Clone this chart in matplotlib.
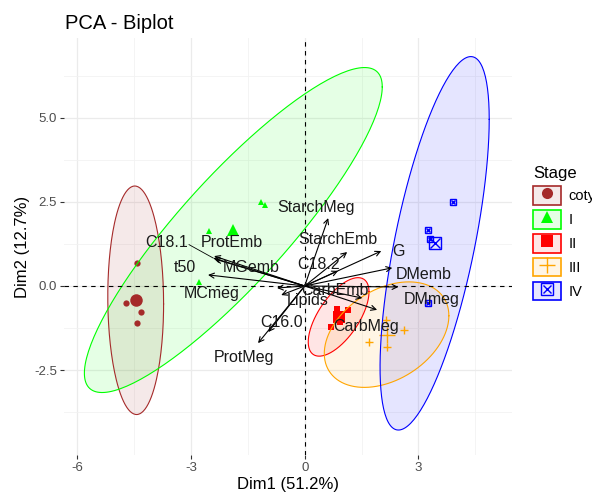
import matplotlib
matplotlib.use("Agg")
import matplotlib.pyplot as plt
from matplotlib.lines import Line2D
from matplotlib.patches import Patch
import numpy as np

plt.rcParams['font.family'] = ['Liberation Sans', 'DejaVu Sans']

# individuals (Dim1, Dim2) per stage
stages = ['coty', 'I', 'II', 'III', 'IV']
coty_x = [-4.41, -4.70, -4.31, -4.41]
coty_y = [0.68, -0.50, -0.77, -1.11]
I_x = [-1.16, -1.06, -2.53, -2.78]
I_y = [2.50, 2.41, 1.64, 0.11]
II_x = [0.84, 1.13, 0.92, 0.69]
II_y = [-0.68, -0.71, -1.07, -1.22]
III_x = [2.14, 2.62, 1.70, 2.18]
III_y = [-1.01, -1.31, -1.66, -1.81]
IV_x = [3.92, 3.24, 3.30, 3.25]
IV_y = [2.51, 1.67, 1.40, -0.50]

# variables (arrow tips)
var_names = ['C18.1', 'ProtEmb', 'MGemb', 't50', 'MCmeg', 'Lipids', 'C16.0', 'ProtMeg',
             'StarchMeg', 'StarchEmb', 'C18.2', 'G', 'DMemb', 'DMmeg', 'CarbEmb', 'CarbMeg']
var_x = [-2.41, -2.39, -2.36, -2.55, -0.73, -0.62, -0.96, -1.23,
         0.62, 1.12, 0.88, 2.02, 2.31, 2.47, 1.52, 1.91]
var_y = [0.83, 0.89, 0.80, 0.33, -0.06, -0.27, -1.37, -1.70,
         2.02, 1.01, 0.45, 1.04, 0.54, -0.03, -0.36, -0.71]
# repelled label positions
lab_x = [-3.65, -1.91, -1.41, -3.15, -2.44, 0.07, -0.62, -1.60,
         0.30, 0.88, 0.36, 2.47, 3.15, 3.36, 0.80, 1.62]
lab_y = [1.28, 1.28, 0.54, 0.54, -0.21, -0.42, -1.10, -2.14,
         2.35, 1.37, 0.65, 1.04, 0.33, -0.39, -0.12, -1.22]

colors = ['#A52A2A', '#00FF00', '#FF0000', '#FFA500', '#0000FF']
xs = [coty_x, I_x, II_x, III_x, IV_x]
ys = [coty_y, I_y, II_y, III_y, IV_y]


def ellipse_pts(x, y, level=0.95, segs=200):
    # same as ggplot2 stat_ellipse(type="norm")
    pts = np.column_stack([x, y])
    n = len(pts)
    center = pts.mean(axis=0)
    cov = np.cov(pts.T)
    d = n - 1
    f = d / 2 * ((1 - level) ** (-2 / d) - 1)  # qf(level, 2, d)
    radius = np.sqrt(2 * f)
    ang = np.linspace(0, 2 * np.pi, segs)
    circ = np.column_stack([np.cos(ang), np.sin(ang)])
    chol = np.linalg.cholesky(cov).T
    return center + radius * circ @ chol


def draw_marker(ax, x, y, i, ms):
    c = colors[i]
    if i == 0:
        ax.plot(x, y, 'o', color=c, ms=ms, mew=0, ls='none')
    elif i == 1:
        ax.plot(x, y, '^', color=c, ms=ms, mew=0, ls='none')
    elif i == 2:
        ax.plot(x, y, 's', color=c, ms=ms * 0.9, mew=0, ls='none')
    elif i == 3:
        ax.plot(x, y, '+', color=c, ms=ms * 1.3, mew=1, ls='none')
    else:
        ax.plot(x, y, 's', mfc='none', mec=c, ms=ms, mew=1, ls='none')
        ax.plot(x, y, 'x', color=c, ms=ms * 0.75, mew=1, ls='none')


fig = plt.figure(figsize=(5.92, 4.93), dpi=100)
ax = fig.add_axes([0.108, 0.077, 0.757, 0.846])

for i in range(5):
    e = ellipse_pts(xs[i], ys[i])
    ax.fill(e[:, 0], e[:, 1], color=colors[i], alpha=0.1, lw=0, zorder=1)
    ax.plot(e[:, 0], e[:, 1], color=colors[i], lw=0.8, zorder=2)
    draw_marker(ax, xs[i], ys[i], i, 4.5)
    draw_marker(ax, np.mean(xs[i]), np.mean(ys[i]), i, 9)

ax.axhline(0, color='black', ls=(0, (4, 4)), lw=0.8, zorder=3)
ax.axvline(0, color='black', ls=(0, (4, 4)), lw=0.8, zorder=3)

for k in range(len(var_names)):
    ax.annotate('', xy=(var_x[k], var_y[k]), xytext=(0, 0),
                arrowprops=dict(arrowstyle='->', color='black', lw=0.8,
                                shrinkA=0, shrinkB=0, mutation_scale=9), zorder=4)
    ax.text(lab_x[k], lab_y[k], var_names[k], fontsize=11.5, ha='center', va='center',
            color='#1a1a1a', zorder=5)
# repel segment for C18.1
ax.plot([lab_x[0] + 0.6, var_x[0]], [lab_y[0] - 0.05, var_y[0]], color='black', lw=0.6, zorder=4)

ax.set_xlim(-6.35, 5.47)
ax.set_ylim(-5.03, 7.38)
ax.set_xticks([-6, -3, 0, 3])
ax.set_xticklabels(['-6', '-3', '0', '3'])
ax.set_yticks([-2.5, 0, 2.5, 5.0])
ax.set_yticklabels(['-2.5', '0.0', '2.5', '5.0'])
ax.set_xticks([-4.5, -1.5, 1.5, 4.5], minor=True)
ax.set_yticks([-3.75, -1.25, 1.25, 3.75, 6.25], minor=True)
ax.grid(True, which='major', color='#EBEBEB', lw=0.9)
ax.grid(True, which='minor', color='#F2F2F2', lw=0.6)
ax.set_axisbelow(True)
for s in ax.spines.values():
    s.set_visible(False)
ax.tick_params(which='major', length=3, color='#333333', labelsize=9.5,
               labelcolor='#4D4D4D', pad=2)
ax.tick_params(which='minor', length=0)
ax.set_xlabel('Dim1 (51.2%)', fontsize=12, labelpad=2)
ax.set_ylabel('Dim2 (12.7%)', fontsize=12, labelpad=3)
fig.text(0.11, 0.953, 'PCA - Biplot', fontsize=14.5, ha='left', va='center')

# legend
handles = []
for i in range(5):
    box = Patch(facecolor=matplotlib.colors.to_rgba(colors[i], 0.1), edgecolor=colors[i], lw=1.2)
    if i == 0:
        m = Line2D([], [], marker='o', color=colors[i], ls='none', ms=8, mew=0)
        handles.append((box, m))
    elif i == 1:
        m = Line2D([], [], marker='^', color=colors[i], ls='none', ms=9, mew=0)
        handles.append((box, m))
    elif i == 2:
        m = Line2D([], [], marker='s', color=colors[i], ls='none', ms=8, mew=0)
        handles.append((box, m))
    elif i == 3:
        m = Line2D([], [], marker='+', color=colors[i], ls='none', ms=11, mew=1)
        handles.append((box, m))
    else:
        m = Line2D([], [], marker='s', mfc='none', mec=colors[i], ls='none', ms=8, mew=1)
        m2 = Line2D([], [], marker='x', color=colors[i], ls='none', ms=6, mew=1)
        handles.append((box, m, m2))
leg = fig.legend(handles, stages, loc='upper left', bbox_to_anchor=(0.888, 0.678),
                 frameon=False, title='Stage', fontsize=10.5, title_fontsize=12,
                 handlelength=1.9, handleheight=1.6, labelspacing=0.35,
                 handletextpad=0.55, borderpad=0)
leg._legend_box.align = 'left'

fig.savefig('out.png', dpi=100)
